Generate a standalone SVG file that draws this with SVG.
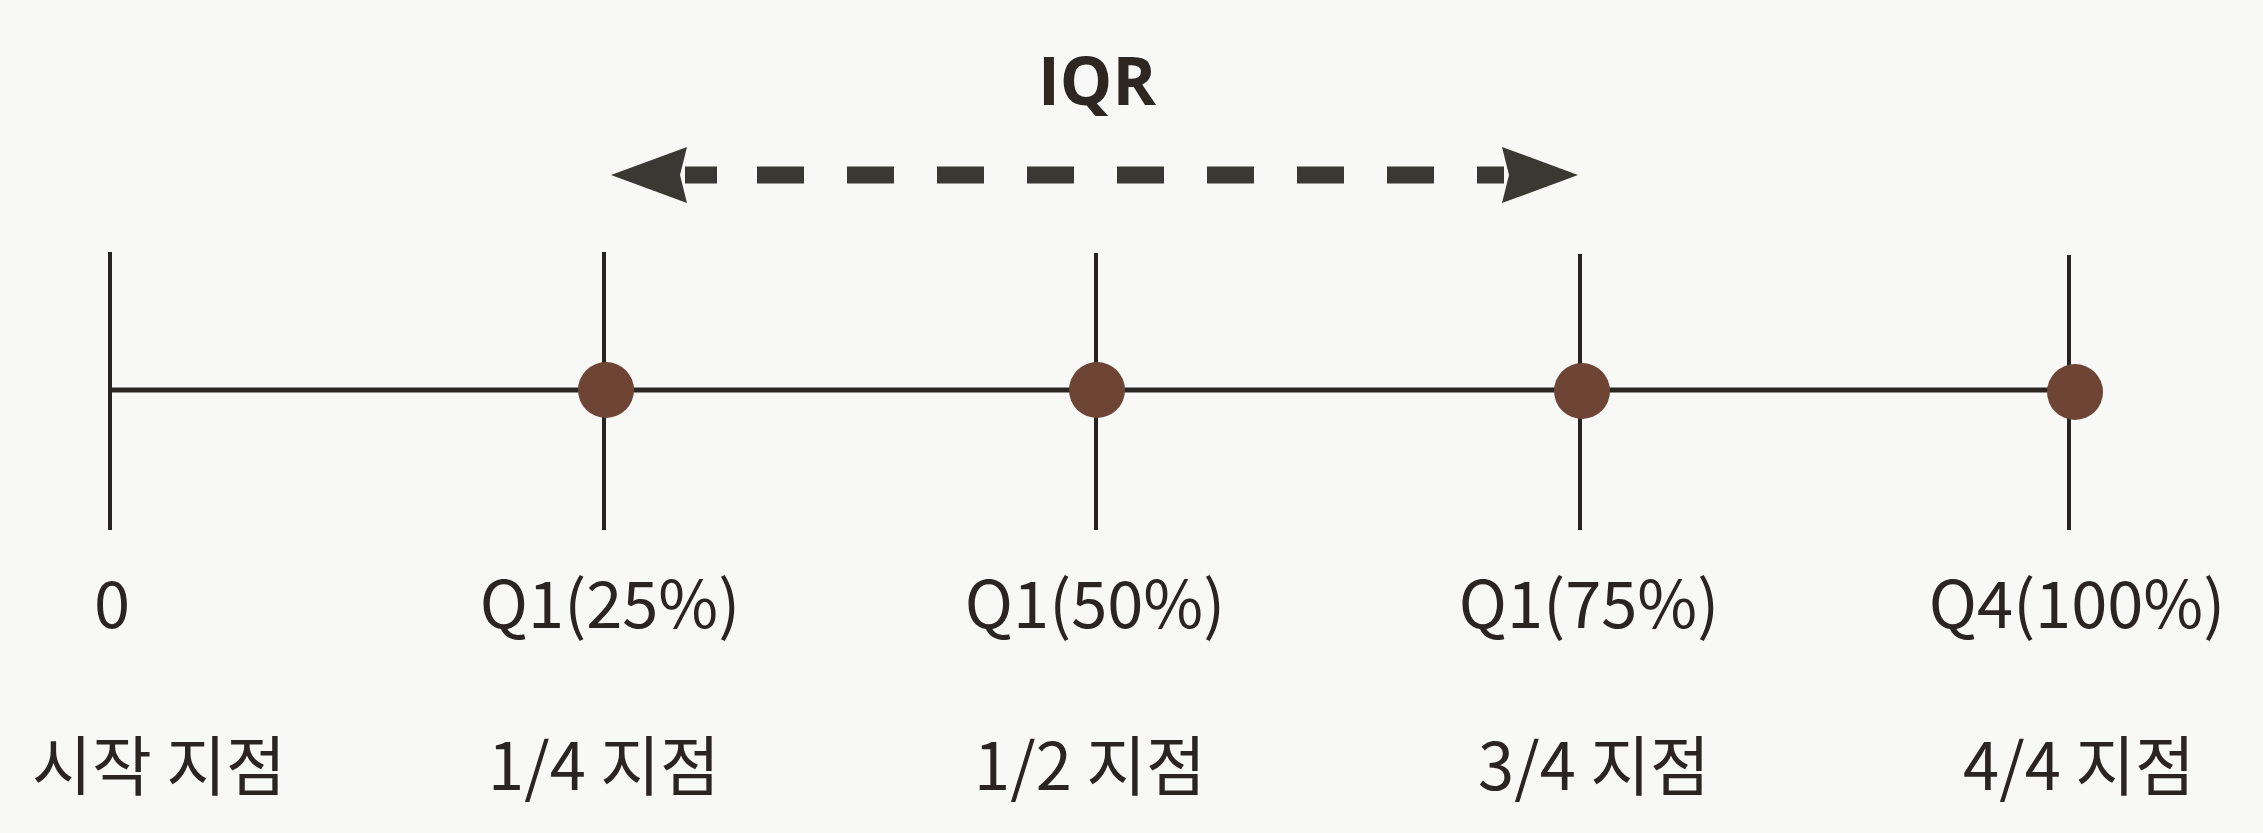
<svg xmlns="http://www.w3.org/2000/svg" width="2263" height="833" viewBox="0 0 2263 833">
<style>
.lbl{font-family:"Noto Sans CJK KR","Noto Sans",sans-serif;font-size:65px;fill:#2a2422;text-anchor:middle}
.title{font-family:"Open Sans","Noto Sans",sans-serif;font-size:66px;font-weight:bold;fill:#2e2620;text-anchor:middle}
.tick{stroke:#262322;stroke-width:4;fill:none}
.axis{stroke:#2a2624;stroke-width:5;fill:none}
.dot{fill:#6e4434}
.iqr{stroke:#3a3832;stroke-width:17;fill:none}
.head{fill:#3a3832}
</style>
<rect width="2263" height="833" fill="#f8f8f6"/>
<g id="connectors">
<line class="axis" x1="110" y1="390" x2="2075" y2="390"/>
<line class="iqr" x1="685" y1="175" x2="1504" y2="175" stroke-dasharray="32 40 47 43 47 43 47 43 47 43 47 43 47 43 47 43 47 43 47 43"/>
<path class="head" d="M611,175 L687,147 L680,175 L687,203 Z"/>
<path class="head" d="M1578,175 L1502,147 L1509,175 L1502,203 Z"/>
</g>
<g id="title"><text class="title" x="1097" y="105">IQR</text></g>
<g id="n0">
<line class="tick" x1="110" y1="252" x2="110" y2="530"/>
<text class="lbl" x="112" y="628">0</text>
<text class="lbl" x="159" y="790">시작 지점</text>
</g>
<g id="q1">
<line class="tick" x1="604" y1="252" x2="604" y2="530"/>
<circle class="dot" cx="606" cy="390" r="28"/>
<text class="lbl" x="610" y="628">Q1(25%)</text>
<text class="lbl" x="604" y="790">1/4 지점</text>
</g>
<g id="q2">
<line class="tick" x1="1096" y1="253" x2="1096" y2="530"/>
<circle class="dot" cx="1097" cy="390" r="28"/>
<text class="lbl" x="1095" y="628">Q1(50%)</text>
<text class="lbl" x="1090" y="790">1/2 지점</text>
</g>
<g id="q3">
<line class="tick" x1="1580" y1="254" x2="1580" y2="530"/>
<circle class="dot" cx="1582" cy="391" r="28"/>
<text class="lbl" x="1589" y="628">Q1(75%)</text>
<text class="lbl" x="1594" y="790">3/4 지점</text>
</g>
<g id="q4">
<line class="tick" x1="2069" y1="255" x2="2069" y2="530"/>
<circle class="dot" cx="2075" cy="392" r="28"/>
<text class="lbl" x="2077" y="628">Q4(100%)</text>
<text class="lbl" x="2079" y="790">4/4 지점</text>
</g>
</svg>
